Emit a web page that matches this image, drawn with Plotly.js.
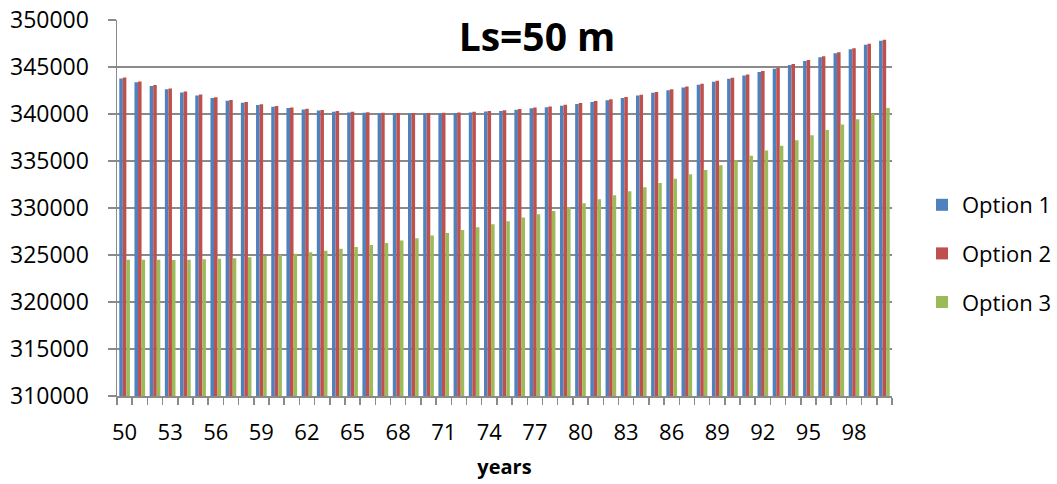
<!DOCTYPE html>
<html>
<head>
<meta charset="utf-8">
<script src="https://cdn.plot.ly/plotly-3.0.1.min.js"></script>
<style>html,body{margin:0;padding:0;background:#fff;}#chart{width:1057px;height:484px;}</style>
</head>
<body>
<div id="chart"></div>
<script>
const years = [50,51,52,53,54,55,56,57,58,59,60,61,62,63,64,65,66,67,68,69,70,71,72,73,74,75,76,77,78,79,80,81,82,83,84,85,86,87,88,89,90,91,92,93,94,95,96,97,98,99,100];
const tickYears = [50,53,56,59,62,65,68,71,74,77,80,83,86,89,92,95,98];
const option1 = [343770,343370,342980,342620,342300,341980,341700,341420,341200,340950,340780,340630,340490,340360,340250,340170,340120,340080,340050,340040,340040,340060,340100,340170,340260,340330,340460,340600,340720,340890,341070,341280,341460,341710,341960,342250,342530,342820,343100,343430,343750,344100,344460,344820,345210,345640,346040,346460,346890,347360,347790];
const option2 = [343870,343470,343080,342720,342390,342070,341790,341500,341280,341030,340850,340700,340560,340420,340310,340230,340180,340140,340110,340100,340100,340120,340160,340230,340320,340400,340530,340680,340800,340980,341160,341370,341560,341810,342060,342350,342640,342930,343210,343540,343860,344210,344570,344930,345320,345750,346150,346570,347000,347470,347900];
const option3 = [324500,324500,324500,324470,324500,324540,324610,324650,324750,324890,325030,325140,325280,325460,325670,325850,326070,326280,326530,326780,327080,327340,327650,327940,328260,328590,328980,329330,329680,330110,330500,330920,331350,331770,332200,332660,333120,333580,334040,334540,335070,335570,336130,336630,337200,337730,338300,338870,339430,340030,340640];
const seriesNames = ['Option 1','Option 2','Option 3'];
const colors = ['#4F81BD','#C0504D','#9BBB59'];

const FONT = 'Open Sans, Liberation Sans, sans-serif';
const grid = '#8a8a8a';
const data = [option1, option2, option3].map((vals, i) => ({
  type: 'bar',
  x: years,
  y: vals,
  name: seriesNames[i],
  legendgroup: 'g' + i,
  marker: {color: colors[i]}
}));

const layout = {
  width: 1057, height: 484,
  margin: {l: 117, r: 165, t: 20, b: 88},
  paper_bgcolor: '#fff', plot_bgcolor: '#fff',
  font: {family: FONT, size: 22, color: '#000'},
  barmode: 'group',
  bargap: 0.3,
  bargroupgap: 0,
  title: {text: '<b>Ls=50 m</b>', font: {family: FONT, size: 39, color: '#000'},
          xref: 'container', yref: 'container', x: 537/1057, y: 1 - 37/484,
          xanchor: 'center', yanchor: 'middle'},
  xaxis: {
    type: 'linear', range: [49.5, 100.5],
    tickmode: 'array', tickvals: tickYears, ticktext: tickYears.map(String),
    ticks: '', showgrid: false, zeroline: false,
    showline: true, linecolor: grid, linewidth: 1.5,
    ticklabelstandoff: 16,
    tickfont: {family: FONT, size: 22},
    minor: {tick0: 49.5, dtick: 1, ticks: 'outside', ticklen: 7, tickcolor: grid, tickwidth: 1.5, showgrid: false},
    title: {text: '<b>years</b>', font: {family: FONT, size: 20}, standoff: 15}
  },
  yaxis: {
    range: [310000, 350000], dtick: 5000, tick0: 310000, tickformat: 'd',
    showgrid: true, gridcolor: grid, gridwidth: 1.5, zeroline: false,
    showline: true, linecolor: grid, linewidth: 1.5,
    ticks: 'outside', ticklen: 8, tickcolor: grid, tickwidth: 1.5,
    ticklabelstandoff: 14,
    tickfont: {family: FONT, size: 23}
  },
  legend: {
    xref: 'container', yref: 'container',
    x: 922/1057, y: 1 - 184/484, xanchor: 'left', yanchor: 'top',
    font: {family: FONT, size: 22},
    tracegroupgap: 17,
    bgcolor: 'rgba(0,0,0,0)'
  },
  showlegend: true
};

Plotly.newPlot('chart', data, layout, {displayModeBar: false, staticPlot: true});
</script>
</body>
</html>
